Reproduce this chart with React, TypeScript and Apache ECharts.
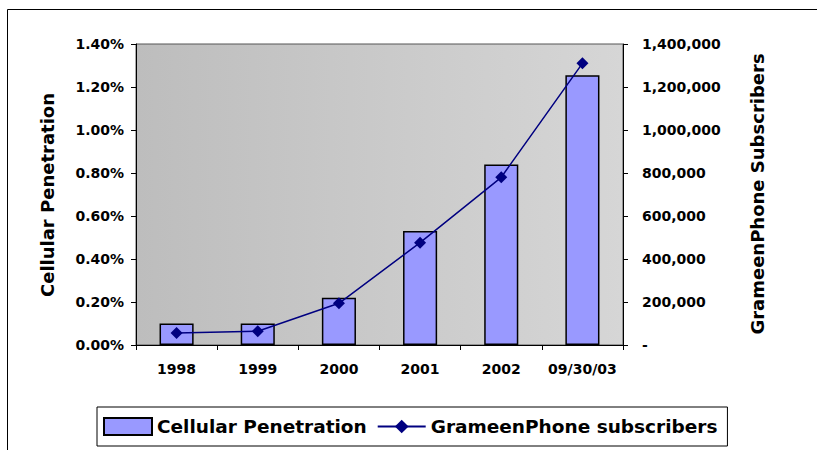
import React, { useEffect, useRef } from "react";
import * as echarts from "echarts";

const categories = ["1998", "1999", "2000", "2001", "2002", "09/30/03"];
const penetration = [0.001, 0.001, 0.0022, 0.0053, 0.0084, 0.01255];
const subscribers = [56000, 64000, 194000, 476000, 780000, 1310000];
const leftTicks = { min: 0, max: 0.014, interval: 0.002 };
const rightTicks = { min: 0, max: 1400000, interval: 200000 };

const FONT = "DejaVu Sans";

export default function App() {
  const ref = useRef<HTMLDivElement>(null);
  useEffect(() => {
    if (!ref.current) return;
    const chart = echarts.init(ref.current, undefined, { renderer: "svg" });
    const axisLabelStyle = {
      color: "#000",
      fontFamily: FONT,
      fontWeight: "bold" as const,
      fontSize: 14,
    };
    chart.setOption({
      animation: false,
      backgroundColor: "#fff",
      grid: {
        left: 136,
        right: 194,
        top: 44,
        bottom: 105,
        show: true,
        borderColor: "#555",
        borderWidth: 1,
        backgroundColor: new echarts.graphic.LinearGradient(0, 0, 1, 0, [
          { offset: 0, color: "#bdbdbd" },
          { offset: 1, color: "#d6d6d6" },
        ]),
      },
      legend: {
        left: 97,
        top: 407,
        orient: "horizontal",
        borderColor: "#000",
        borderWidth: 1,
        padding: [10, 10, 10, 6],
        itemGap: 10,
        itemWidth: 48,
        itemHeight: 17,
        textStyle: {
          color: "#000",
          fontFamily: FONT,
          fontWeight: "bold",
          fontSize: 18.5,
        },
        data: [
          { name: "Cellular Penetration", icon: "rect" },
          { name: "GrameenPhone subscribers" },
        ],
      },
      xAxis: {
        type: "category",
        data: categories,
        boundaryGap: true,
        axisLine: { lineStyle: { color: "#000", width: 1 } },
        axisTick: { show: true, interval: 0, length: 5, lineStyle: { color: "#000" } },
        axisLabel: { ...axisLabelStyle, margin: 17, interval: 0 },
      },
      yAxis: [
        {
          type: "value",
          min: leftTicks.min,
          max: leftTicks.max,
          interval: leftTicks.interval,
          position: "left",
          splitLine: { show: false },
          axisLine: { show: true, lineStyle: { color: "#000" } },
          axisTick: { show: true, length: 5, lineStyle: { color: "#000" } },
          axisLabel: {
            ...axisLabelStyle,
            margin: 12,
            formatter: (v: number) => (v * 100).toFixed(2) + "%",
          },
        },
        {
          type: "value",
          min: rightTicks.min,
          max: rightTicks.max,
          interval: rightTicks.interval,
          position: "right",
          splitLine: { show: false },
          axisLine: { show: true, lineStyle: { color: "#000" } },
          axisTick: { show: true, length: 5, lineStyle: { color: "#000" } },
          axisLabel: {
            ...axisLabelStyle,
            margin: 19,
            formatter: (v: number) =>
              v === 0 ? "-" : Math.round(v).toLocaleString("en-US"),
          },
        },
      ],
      series: [
        {
          name: "Cellular Penetration",
          type: "bar",
          yAxisIndex: 0,
          data: penetration,
          barWidth: "42%",
          itemStyle: { color: "#9999ff", borderColor: "#000", borderWidth: 1.5 },
        },
        {
          name: "GrameenPhone subscribers",
          type: "line",
          yAxisIndex: 1,
          data: subscribers,
          symbol: "diamond",
          symbolSize: 12,
          lineStyle: { color: "#000080", width: 1.5 },
          itemStyle: { color: "#000080" },
          z: 5,
        },
      ],
      graphic: [
        {
          type: "rect",
          shape: { x: 7.5, y: 9.5, width: 900, height: 600 },
          style: { fill: "none", stroke: "#000", lineWidth: 1 },
          silent: true,
        },
        {
          type: "text",
          x: 47,
          y: 195,
          rotation: Math.PI / 2,
          style: {
            text: "Cellular Penetration",
            fill: "#000",
            font: `bold 18px '${FONT}'`,
            textAlign: "center",
            textVerticalAlign: "middle",
          },
        },
        {
          type: "text",
          x: 757,
          y: 194,
          rotation: Math.PI / 2,
          style: {
            text: "GrameenPhone Subscribers",
            fill: "#000",
            font: `bold 18px '${FONT}'`,
            textAlign: "center",
            textVerticalAlign: "middle",
          },
        },
      ],
    });
    return () => chart.dispose();
  }, []);
  return (
    <div
      ref={ref}
      style={{ position: "fixed", left: 0, top: 0, width: 817, height: 450 }}
    />
  );
}
